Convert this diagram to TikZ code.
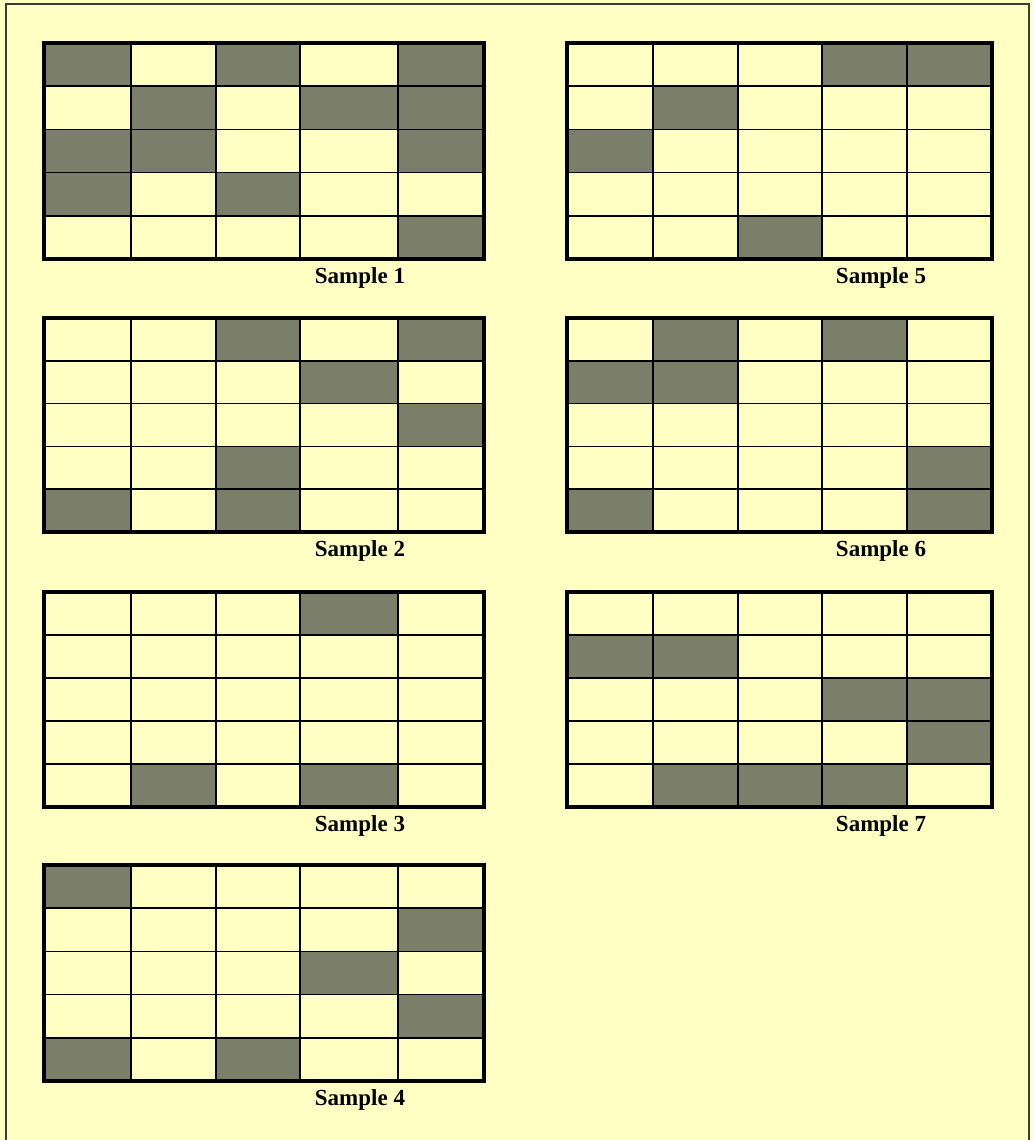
\documentclass[tikz,border=0pt]{standalone}
\usepackage{fontspec}
\setmainfont{Liberation Serif}
\definecolor{paper}{HTML}{FFFFC4}
\definecolor{darkcell}{HTML}{7B7E69}
\definecolor{frameline}{HTML}{3A3A3A}
\tikzset{
  cellfill/.style={fill=darkcell},
  innerline/.style={line width=1.6pt, black},
  outerline/.style={line width=3.2pt, black},
  pageframe/.style={line width=1.8pt, frameline},
  samplelabel/.style={anchor=base, font=\bfseries\fontsize{23}{27}\selectfont, inner sep=0pt}
}
% #1 column edges, #2 top, #3 bottom, #4 dark cells c/r, #5 label, #6 name, #7 label x
\newcommand\samplegrid[7]{%
  \foreach \c/\r in {#4}{%
    \pgfmathsetmacro\xa{{#1}[\c-1]}%
    \pgfmathsetmacro\xb{{#1}[\c]}%
    \pgfmathsetmacro\ya{#2+(#3-#2)*(\r-1)/5}%
    \pgfmathsetmacro\yb{#2+(#3-#2)*\r/5}%
    \fill[cellfill] (\xa,\ya) rectangle (\xb,\yb);
  }%
  \pgfmathsetmacro\xl{{#1}[0]}%
  \pgfmathsetmacro\xr{{#1}[5]}%
  \foreach \c in {1,2,3,4}{%
    \pgfmathsetmacro\xv{{#1}[\c]}%
    \draw[innerline] (\xv,#2) -- (\xv,#3);
  }%
  \foreach \r in {1,2,3,4}{%
    \pgfmathsetmacro\yh{#2+(#3-#2)*\r/5}%
    \draw[innerline] (\xl,\yh) -- (\xr,\yh);
  }%
  \draw[outerline] (\xl,#2) rectangle (\xr,#3);
  \node[samplelabel] (#6) at (#7,#3+24) {#5};
}
\begin{document}
\begin{tikzpicture}[x=1pt,y=-1pt]
\fill[paper] (0,0) rectangle (1033,1140);
\useasboundingbox (0,0) rectangle (1033,1140);
\draw[pageframe] (6,1141) -- (6,4) -- (1029,4) -- (1029,1141);
% left column
\samplegrid{44,131,216,300,398,484}{43}{259}
  {1/1,3/1,5/1, 2/2,4/2,5/2, 1/3,2/3,5/3, 1/4,3/4, 5/5}{Sample 1}{s1}{360}
\samplegrid{44,131,216,300,398,484}{318}{532}
  {3/1,5/1, 4/2, 5/3, 3/4, 1/5,3/5}{Sample 2}{s2}{360}
\samplegrid{44,131,216,300,398,484}{592}{807}
  {4/1, 2/5,4/5}{Sample 3}{s3}{360}
\samplegrid{44,131,216,300,398,484}{865}{1081}
  {1/1, 5/2, 4/3, 5/4, 1/5,3/5}{Sample 4}{s4}{360}
% right column
\samplegrid{567,653,738,822,907,992}{43}{259}
  {4/1,5/1, 2/2, 1/3, 3/5}{Sample 5}{s5}{881}
\samplegrid{567,653,738,822,907,992}{318}{532}
  {2/1,4/1, 1/2,2/2, 5/4, 1/5,5/5}{Sample 6}{s6}{881}
\samplegrid{567,653,738,822,907,992}{592}{807}
  {1/2,2/2, 4/3,5/3, 5/4, 2/5,3/5,4/5}{Sample 7}{s7}{881}
\end{tikzpicture}
\end{document}
